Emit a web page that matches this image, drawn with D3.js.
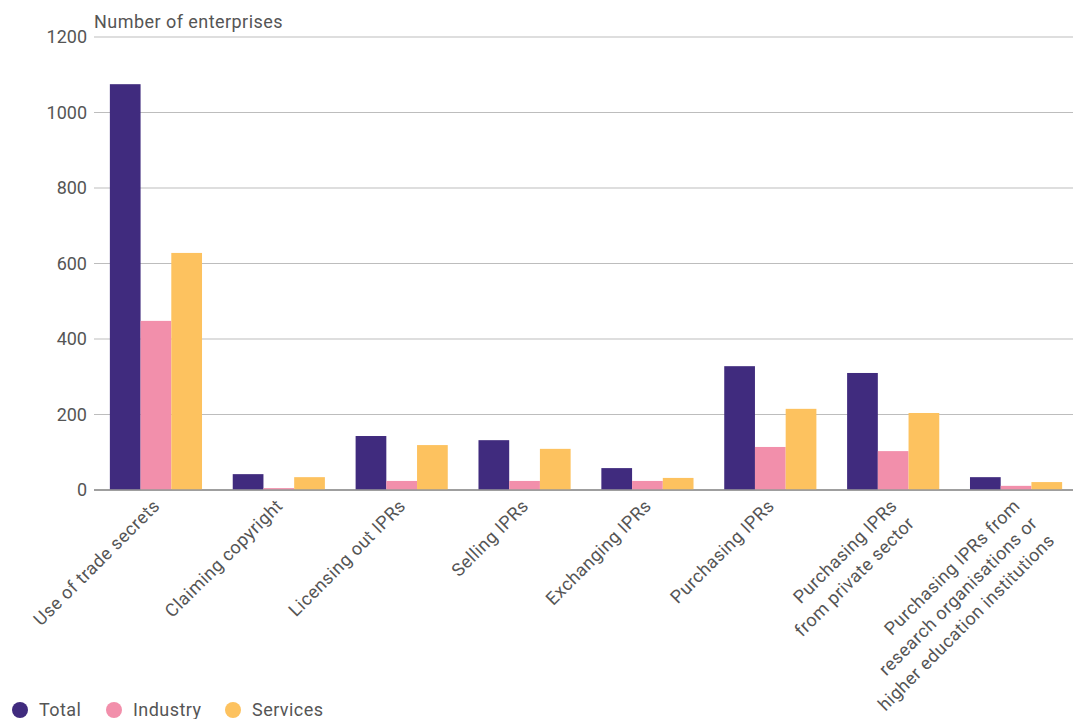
<!DOCTYPE html>
<html>
<head>
<meta charset="utf-8">
<script src="https://cdn.jsdelivr.net/npm/d3@7"></script>
<style>
  html, body { margin: 0; padding: 0; background: #fff; }
  svg { display: block; font-family: Roboto, "Noto Sans", sans-serif; }
</style>
</head>
<body>
<svg id="chart" width="1073" height="719"></svg>
<script>
// IPR-related activities by enterprise group
const categories = [
  ["Use of trade secrets"],
  ["Claiming copyright"],
  ["Licensing out IPRs"],
  ["Selling IPRs"],
  ["Exchanging IPRs"],
  ["Purchasing IPRs"],
  ["Purchasing IPRs", "from private sector"],
  ["Purchasing IPRs from", "research organisations or", "higher education institutions"]
];
const seriesNames = ["Total", "Industry", "Services"];
const totalValues    = [1075, 42, 143, 132, 58, 328, 310, 34];
const industryValues = [448, 5, 24, 24, 24, 114, 103, 11];
const servicesValues = [628, 34, 119, 109, 32, 215, 204, 21];
const yTicks = [0, 200, 400, 600, 800, 1000, 1200];
const colors = ["#402b7e", "#f28fab", "#fdc25f"];

const series = [totalValues, industryValues, servicesValues];

const svg = d3.select("#chart");
const W = 1073;
const plotLeft = 94, plotTop = 37, plotBottom = 490;
const textColor = "#555";
const spacing = "0.45px";

const x0 = d3.scaleBand()
  .domain(d3.range(categories.length))
  .range([94.5, 1077.5])
  .paddingInner(0.25)
  .paddingOuter(0.125);

const x1 = d3.scaleBand()
  .domain(d3.range(seriesNames.length))
  .range([0, x0.bandwidth()])
  .padding(0);

const y = d3.scaleLinear().domain([0, 1200]).range([plotBottom, plotTop]);

// gridlines and y tick labels
const yAxis = svg.append("g").attr("class", "y-axis");
yAxis.selectAll("line")
  .data(yTicks)
  .join("line")
  .attr("x1", plotLeft).attr("x2", W)
  .attr("y1", d => y(d)).attr("y2", d => y(d))
  .attr("stroke", d => d === 0 ? "#999" : "#bdbdbd")
  .attr("stroke-width", d => d === 0 ? 1.5 : 1.2);

yAxis.selectAll("text")
  .data(yTicks)
  .join("text")
  .attr("x", plotLeft - 7)
  .attr("y", d => y(d))
  .attr("dy", "0.35em")
  .attr("text-anchor", "end")
  .attr("font-size", 18)
  .attr("fill", textColor)
  .text(d => d);

// axis title
svg.append("text")
  .attr("x", plotLeft)
  .attr("y", 28)
  .attr("font-size", 18)
  .attr("letter-spacing", spacing)
  .attr("fill", textColor)
  .text("Number of enterprises");

// bars
const groups = svg.append("g").selectAll("g")
  .data(categories.map((c, i) => i))
  .join("g")
  .attr("transform", i => `translate(${x0(i)},0)`);

groups.selectAll("rect")
  .data(i => series.map((s, k) => ({ k, v: s[i] })))
  .join("rect")
  .attr("x", d => x1(d.k))
  .attr("width", x1.bandwidth())
  .attr("y", d => y(d.v))
  .attr("height", d => y(0) - y(d.v))
  .attr("fill", d => colors[d.k]);

// baseline on top of bars
svg.append("line")
  .attr("x1", plotLeft).attr("x2", W)
  .attr("y1", y(0)).attr("y2", y(0))
  .attr("stroke", "#999").attr("stroke-width", 1.5);

// rotated category labels
const lineH = 24.5;
const labels = svg.append("g").selectAll("g")
  .data(categories.map((c, i) => ({ c, i })))
  .join("g")
  .attr("transform", d => `translate(${x0(d.i) + x0.bandwidth() / 2 + 5},${plotBottom + 17}) rotate(-45)`);

labels.each(function(d) {
  const g = d3.select(this);
  d.c.forEach((line, j) => {
    g.append("text")
      .attr("x", 0)
      .attr("y", j * lineH)
      .attr("text-anchor", "end")
      .attr("font-size", 18)
      .attr("letter-spacing", spacing)
      .attr("fill", textColor)
      .text(line);
  });
});

// legend
const legendPos = [20, 114, 233];
const legend = svg.append("g").selectAll("g")
  .data(seriesNames.map((n, k) => ({ n, k })))
  .join("g")
  .attr("transform", d => `translate(${legendPos[d.k]},710)`);
legend.append("circle")
  .attr("r", 8)
  .attr("fill", d => colors[d.k]);
legend.append("text")
  .attr("x", 19)
  .attr("dy", "0.35em")
  .attr("font-size", 18)
  .attr("letter-spacing", spacing)
  .attr("fill", textColor)
  .text(d => d.n);
</script>
</body>
</html>
